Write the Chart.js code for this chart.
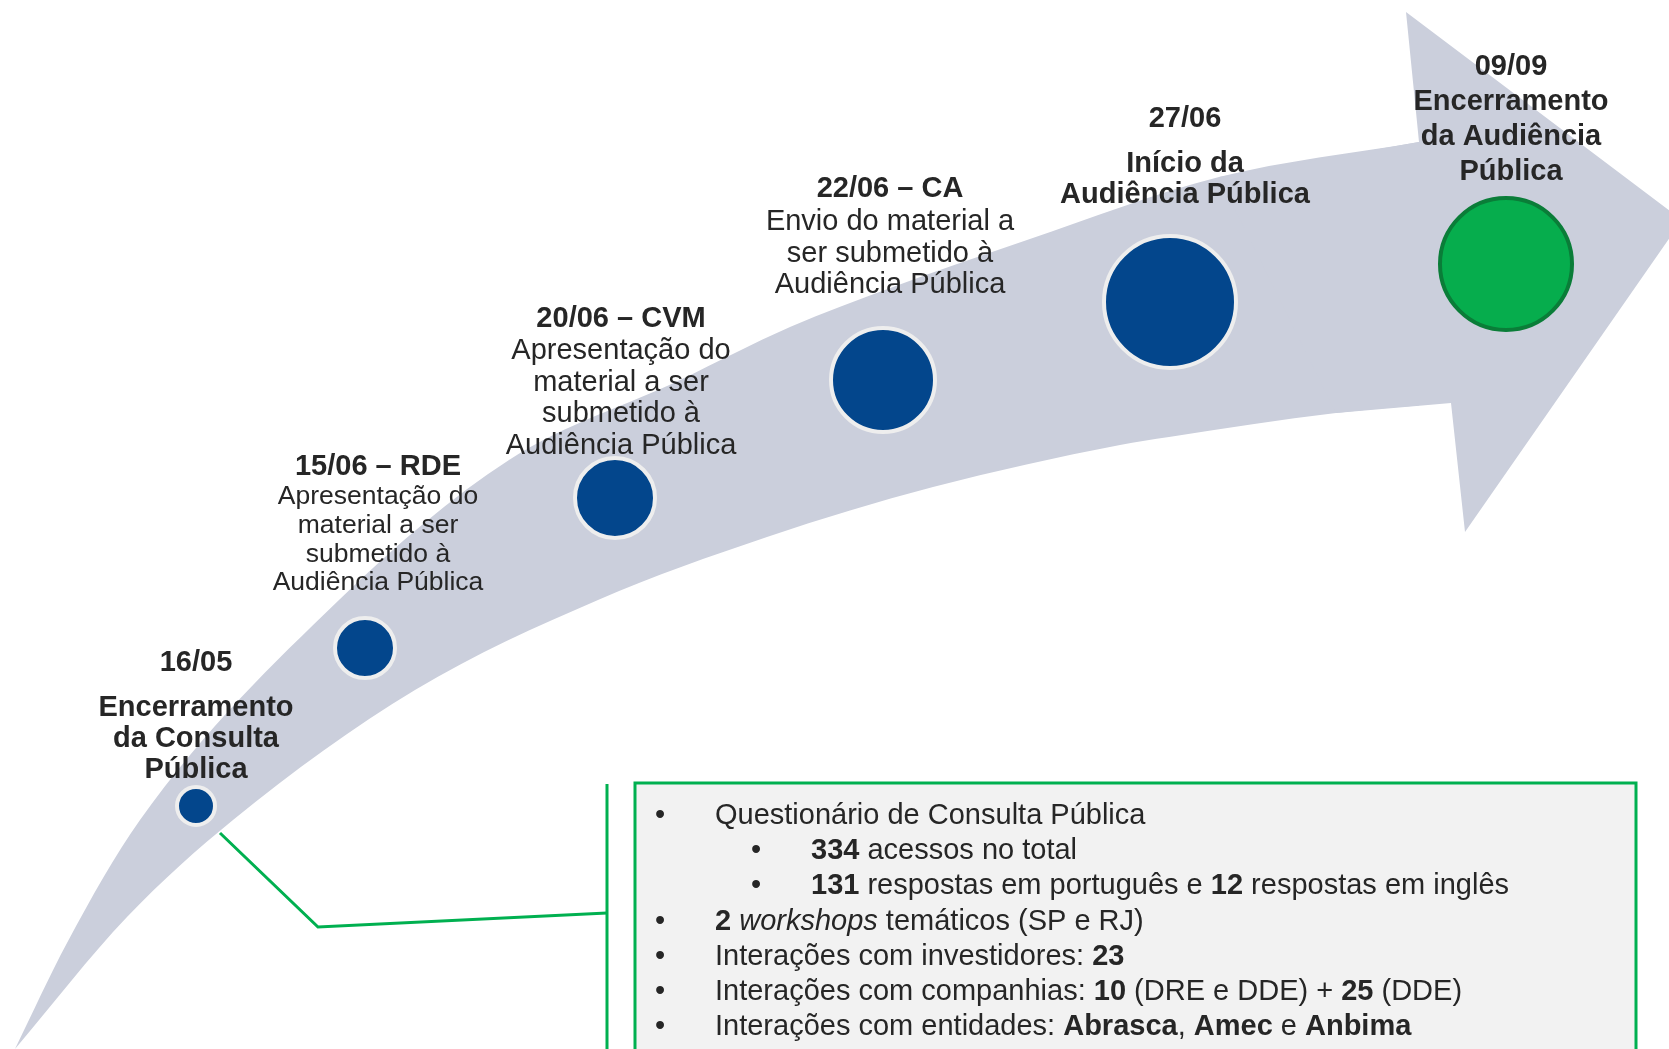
<!DOCTYPE html>
<html>
<head>
<meta charset="utf-8">
<script src="https://cdn.jsdelivr.net/npm/chart.js@4.4.1/dist/chart.umd.min.js"></script>
<style>
  html, body { margin: 0; padding: 0; background: #fff; overflow: hidden; }
  #wrap { width: 1669px; height: 1049px; }
</style>
</head>
<body>
<div id="wrap"><canvas id="timeline"></canvas></div>
<script>
// milestones along the arrow
const milestones = ['16/05', '15/06', '20/06', '22/06', '27/06', '09/09'];
const milestoneX = [196, 365, 615, 883, 1170, 1506];
const milestoneY = [806, 648, 498, 380, 302, 264];
const milestoneR = [19, 30, 40, 52, 66, 66];

const titles = ['16/05', '15/06 – RDE', '20/06 – CVM', '22/06 – CA', '27/06', '09/09'];
const boldLines = [
    ['Encerramento', 'da Consulta', 'Pública'],
    [],
    [],
    [],
    ['Início da', 'Audiência Pública'],
    ['Encerramento', 'da Audiência', 'Pública']
];
const plainLines = [
    [],
    ['Apresentação do', 'material a ser', 'submetido à', 'Audiência Pública'],
    ['Apresentação do', 'material a ser', 'submetido à', 'Audiência Pública'],
    ['Envio do material a', 'ser submetido à', 'Audiência Pública'],
    [],
    []
];

// arrow outline
const upperEdgeX = [15, 67, 140, 339, 509, 680, 790, 893, 1027, 1219, 1419];
const upperEdgeY = [1049, 943, 820, 600, 460, 380, 327, 287, 240, 177, 142];
const lowerEdgeX = [15, 127, 233, 415, 598, 767, 933, 1120, 1169, 1336, 1451];
const lowerEdgeY = [1049, 917, 820, 690, 600, 537, 487, 445, 437, 413, 403];
const headX = [1219, 1419, 1406, 1682, 1465, 1451, 1336];
const headY = [177, 142, 12, 220, 532, 403, 413];

// callout to the summary box
const connectorX = [220, 318, 607];
const connectorY = [833, 927, 913];
const bracketX = [607, 607];
const bracketY = [784, 1049];

const summary = [
    { level: 0, runs: [['Questionário de Consulta Pública', '']] },
    { level: 1, runs: [['334', 'b'], [' acessos no total', '']] },
    { level: 1, runs: [['131', 'b'], [' respostas em português e ', ''], ['12', 'b'], [' respostas em inglês', '']] },
    { level: 0, runs: [['2', 'b'], [' ', ''], ['workshops', 'i'], [' temáticos (SP e RJ)', '']] },
    { level: 0, runs: [['Interações com investidores: ', ''], ['23', 'b']] },
    { level: 0, runs: [['Interações com companhias: ', ''], ['10', 'b'], [' (DRE e DDE) + ', ''], ['25', 'b'], [' (DDE)', '']] },
    { level: 0, runs: [['Interações com entidades: ', ''], ['Abrasca', 'b'], [', ', ''], ['Amec', 'b'], [' e ', ''], ['Anbima', 'b']] }
];

const FONT = '"Liberation Sans", Arial, sans-serif';
const TEXT = '#262626';
const ARROW = '#cbcfdc';
const BLUE = '#03468c';
const GREEN = '#06ad4d';
const LINE_GREEN = '#00b050';

const pts = (xs, ys) => xs.map((x, i) => ({ x, y: ys[i] }));

// label placement (center x, first line y, gaps)
const labelPos = [
    { x: 196, y: 663, first: 45, gap: 31, size: 29 },
    { x: 378, y: 467, first: 30, gap: 28.7, size: 26.5 },
    { x: 621, y: 319, first: 32, gap: 31.5, size: 29 },
    { x: 890, y: 189, first: 33, gap: 31.5, size: 29 },
    { x: 1185, y: 119, first: 45, gap: 31, size: 29 },
    { x: 1511, y: 67, first: 35, gap: 35, size: 29 }
];

const labelsPlugin = {
    id: 'labels',
    beforeDatasetsDraw(chart) {
        const { ctx, scales: { x, y } } = chart;
        // summary box
        const left = x.getPixelForValue(635), top = y.getPixelForValue(783);
        const right = x.getPixelForValue(1636), bottom = y.getPixelForValue(1062);
        ctx.save();
        ctx.fillStyle = '#f2f2f2';
        ctx.fillRect(left, top, right - left, bottom - top);
        ctx.strokeStyle = LINE_GREEN;
        ctx.lineWidth = 3;
        ctx.strokeRect(left, top, right - left, bottom - top);
        ctx.restore();
    },
    afterDatasetsDraw(chart) {
        const { ctx, scales: { x, y } } = chart;
        ctx.save();
        ctx.fillStyle = TEXT;
        ctx.textAlign = 'center';
        ctx.textBaseline = 'middle';
        titles.forEach((t, i) => {
            const p = labelPos[i];
            const cx = x.getPixelForValue(p.x);
            let ly = p.y;
            ctx.font = 'bold 29px ' + FONT;
            ctx.fillText(t, cx, y.getPixelForValue(ly));
            ly += p.first;
            boldLines[i].forEach(s => {
                ctx.font = 'bold 29px ' + FONT;
                ctx.fillText(s, cx, y.getPixelForValue(ly));
                ly += p.gap;
            });
            plainLines[i].forEach(s => {
                ctx.font = p.size + 'px ' + FONT;
                ctx.fillText(s, cx, y.getPixelForValue(ly));
                ly += p.gap;
            });
        });

        // summary text
        ctx.textAlign = 'left';
        summary.forEach((row, i) => {
            const ry = y.getPixelForValue(816 + i * 35.2);
            const bx = x.getPixelForValue(row.level ? 756 : 660);
            let tx = x.getPixelForValue(row.level ? 811 : 715);
            ctx.font = '29px ' + FONT;
            ctx.textAlign = 'center';
            ctx.fillText('•', bx, ry);
            ctx.textAlign = 'left';
            row.runs.forEach(([s, st]) => {
                ctx.font = (st === 'b' ? 'bold ' : st === 'i' ? 'italic ' : '') + '29px ' + FONT;
                ctx.fillText(s, tx, ry);
                tx += ctx.measureText(s).width;
            });
        });
        ctx.restore();
    }
};

new Chart(document.getElementById('timeline'), {
    type: 'scatter',
    data: {
        datasets: [
            {
                type: 'line',
                data: pts(upperEdgeX, upperEdgeY),
                fill: '+1',
                backgroundColor: ARROW,
                borderWidth: 0,
                pointRadius: 0,
                cubicInterpolationMode: 'monotone',
                order: 5
            },
            {
                type: 'line',
                data: pts(lowerEdgeX, lowerEdgeY),
                fill: false,
                borderWidth: 0,
                pointRadius: 0,
                cubicInterpolationMode: 'monotone',
                order: 5
            },
            {
                type: 'line',
                data: pts(headX, headY),
                fill: 'shape',
                backgroundColor: ARROW,
                borderWidth: 0,
                pointRadius: 0,
                tension: 0,
                order: 4
            },
            {
                type: 'line',
                data: pts(connectorX, connectorY),
                borderColor: LINE_GREEN,
                borderWidth: 3,
                pointRadius: 0,
                tension: 0,
                fill: false,
                order: 3
            },
            {
                type: 'line',
                data: pts(bracketX, bracketY),
                borderColor: LINE_GREEN,
                borderWidth: 3,
                pointRadius: 0,
                fill: false,
                order: 3
            },
            {
                type: 'bubble',
                label: 'Marcos',
                data: milestones.map((m, i) => ({ x: milestoneX[i], y: milestoneY[i], r: milestoneR[i] })),
                backgroundColor: milestones.map((m, i) => i === milestones.length - 1 ? GREEN : BLUE),
                borderColor: milestones.map((m, i) => i === milestones.length - 1 ? '#0a7d38' : '#eeeeee'),
                borderWidth: 4,
                hoverRadius: 0,
                order: 1
            }
        ]
    },
    options: {
        responsive: true,
        maintainAspectRatio: false,
        animation: false,
        events: [],
        layout: { padding: 0, autoPadding: false },
        plugins: {
            legend: { display: false },
            tooltip: { enabled: false }
        },
        scales: {
            x: { type: 'linear', min: 0, max: 1669, display: false },
            y: { type: 'linear', min: 0, max: 1049, reverse: true, display: false }
        }
    },
    plugins: [labelsPlugin]
});
</script>
</body>
</html>
